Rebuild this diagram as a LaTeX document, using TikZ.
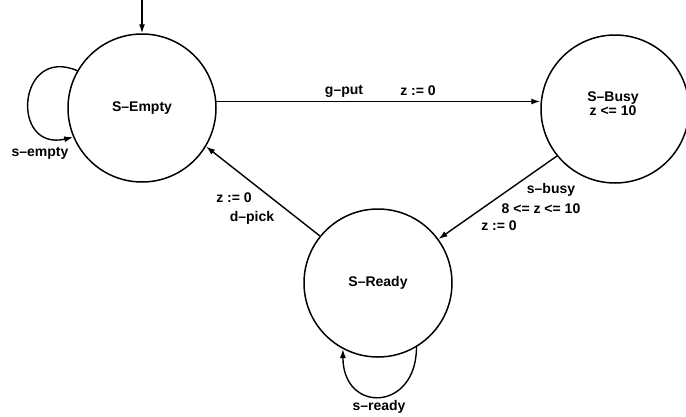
\documentclass[tikz,border=0pt]{standalone}
\usepackage{fontspec}
\setmainfont{Liberation Sans}
\usetikzlibrary{arrows.meta}
\begin{document}
\begin{tikzpicture}[x=1pt,y=1pt,
  state/.style={circle,draw,line width=1.5pt,minimum size=148pt,inner sep=0pt,
    font=\bfseries\fontsize{14}{16}\selectfont,align=center},
  edge/.style={line width=1.4pt,-{Latex[length=9pt,width=6pt]}},
  lbl/.style={font=\bfseries\fontsize{14}{16}\selectfont,inner sep=0pt,align=center}]
\useasboundingbox (0,0) rectangle (686,-416);

% states
\node[state] (E) at (142,-108) {S--Empty};
\node[state] (B) at (615,-109) {};
\node[lbl]   (Btext) at (613,-104) {S--Busy\\[-2pt]z <= 10};
\node[state] (R) at (378,-283) {S--Ready};

% initial arrow
\coordinate (init) at (142,0);
\draw[edge] (init) -- (E.north);

% transitions
\draw[edge] (E.5) -- (B.west |- E.5);
\draw[edge] (B.219) -- (R.36);
\draw[edge] (R.141) -- (E.-31);

% self loops
\draw[edge] (E.150) to[out=157,in=193,looseness=2.5] (E.203);
\draw[edge] (R.301) to[out=-90,in=-90,looseness=2.25] (R.242);

% transition labels
\node[lbl] (lput)   at (344,-91)  {g--put};
\node[lbl] (lputz)  at (418,-91)  {z := 0};
\node[lbl] (lbusy)  at (551,-190) {s--busy};
\node[lbl] (lguard) at (541,-209) {8 <= z <= 10};
\node[lbl] (lbusyz) at (499,-226) {z := 0};
\node[lbl] (lpickz) at (234,-198) {z := 0};
\node[lbl] (lpick)  at (252,-218) {d--pick};
\node[lbl] (lempty) at (40,-153)  {s--empty};
\node[lbl] (lready) at (379,-407) {s--ready};
\end{tikzpicture}
\end{document}
